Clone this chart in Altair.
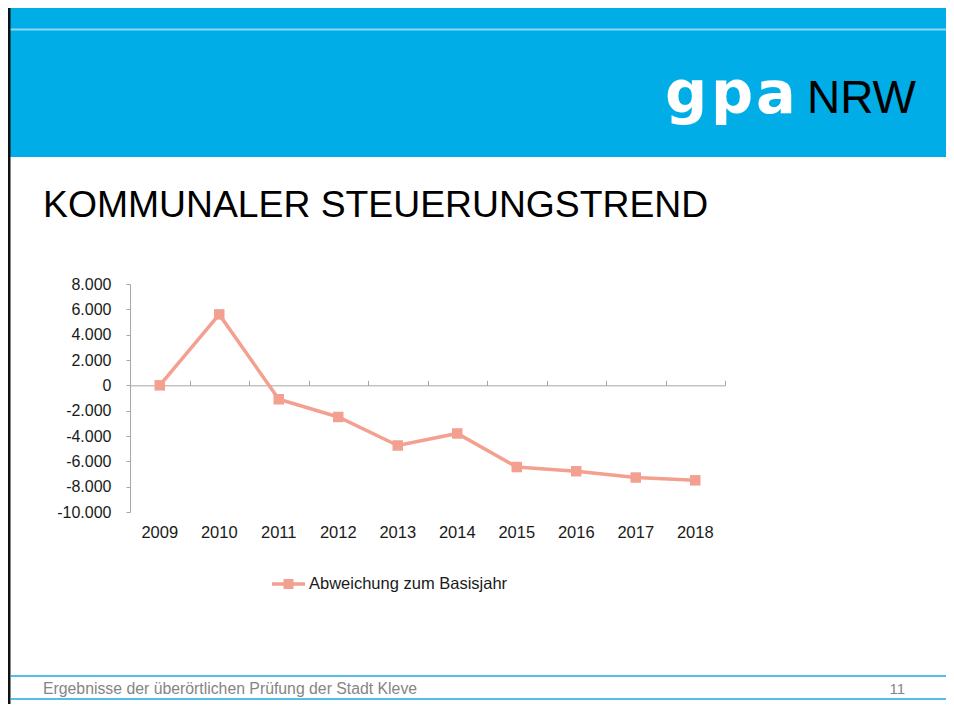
import altair as alt
import pandas as pd

# ---------------- data ----------------
years = ["2009", "2010", "2011", "2012", "2013", "2014", "2015", "2016", "2017", "2018"]
values = [0, 5600, -1100, -2500, -4750, -3800, -6450, -6780, -7280, -7500]
y_ticks = [8000, 6000, 4000, 2000, 0, -2000, -4000, -6000, -8000, -10000]
series_name = "Abweichung zum Basisjahr"
title_text = "KOMMUNALER STEUERUNGSTREND"
footer_text = "Ergebnisse der überörtlichen Prüfung der Stadt Kleve"
page_number = "11"
logo_letters = ["g", "p", "a"]
logo_right = "NRW"

# ---------------- layout constants ----------------
W, H = 595, 228
Y_MIN, Y_MAX = -10000, 8000
zero_px = H * Y_MAX / (Y_MAX - Y_MIN)
BLUE = "#00ADE6"
LINE_BLUE = "#1AA8E0"
SALMON = "#F3A090"
GRAY = "#A6A6A6"
FONT = "Liberation Sans"

df = pd.DataFrame({"Jahr": years, "Wert": values, "Reihe": series_name})
one = pd.DataFrame({"k": [0]})


def rect(x, x2, y, y2, color):
    return alt.Chart(one).mark_rect(color=color).encode(
        x=alt.value(x), x2=alt.value(x2), y=alt.value(y), y2=alt.value(y2))


def hrule(x, x2, y, color, sw):
    return alt.Chart(one).mark_rule(color=color, strokeWidth=sw).encode(
        x=alt.value(x), x2=alt.value(x2), y=alt.value(y))


def txt(s, x, y, size, color, align="left", baseline="alphabetic", font=FONT, weight="normal"):
    return alt.Chart(one).mark_text(
        text=s, font=font, fontSize=size, color=color, align=align,
        baseline=baseline, fontWeight=weight).encode(x=alt.value(x), y=alt.value(y))


header = rect(-120, 816, -276, -127, BLUE)
header_line = hrule(-120, 816, -254.5, "#8CD7F2", 2)
left_border = alt.Chart(one).mark_rule(color="#111111", strokeWidth=3).encode(
    x=alt.value(-121), y=alt.value(-276), y2=alt.value(420))

title = txt(title_text, -87, -67, 37.3, "#000000")

logo_x = [556, 602, 646]
logo_layers = [
    txt(ch, lx, -171, 59, "#FFFFFF", align="center", font="DejaVu Sans", weight="bold")
    for ch, lx in zip(logo_letters, logo_x)
]
logo_nrw = txt(logo_right, 677, -171, 46, "#000000")

footer_l1 = hrule(-120, 816, 392, LINE_BLUE, 1.5)
footer_l2 = hrule(-120, 816, 415, LINE_BLUE, 1.5)
footer_t = txt(footer_text, -87, 405, 15.8, "#858585", baseline="middle")
footer_n = txt(page_number, 775, 405, 15, "#858585", align="right", baseline="middle")

# legend
leg_line = hrule(142, 175, 300, SALMON, 3.5)
leg_pt = alt.Chart(one).mark_point(shape="square", filled=True, size=100, color=SALMON, opacity=1).encode(
    x=alt.value(158.5), y=alt.value(300))
leg_txt = txt(series_name, 179, 300, 16.5, "#1a1a1a", baseline="middle")

# ---------------- main chart ----------------
xscale = alt.Scale(type="band", paddingInner=0, paddingOuter=0)
yaxis = alt.Axis(
    values=y_ticks,
    labelExpr="replace(replace(format(datum.value, ',.0f'), ',', '.'), '\u2212', '-')",
    grid=False, domainColor=GRAY, tickColor=GRAY, tickSize=4, labelPadding=15,
    labelFont=FONT, labelFontSize=16, labelColor="#1a1a1a", title=None)
bottom_axis = alt.Axis(
    orient="bottom", domain=False, ticks=False, labelPadding=12, labelAngle=0,
    labelFont=FONT, labelFontSize=16.5, labelColor="#1a1a1a", title=None, grid=False)
top_axis = alt.Axis(
    orient="top", offset=-zero_px, labels=False, ticks=True, tickBand="extent",
    tickSize=5, domain=True, domainColor=GRAY, tickColor=GRAY, title=None, grid=False)

base = alt.Chart(df).encode(
    y=alt.Y("Wert:Q", scale=alt.Scale(domain=[Y_MIN, Y_MAX], nice=False), axis=yaxis))

line = base.mark_line(color=SALMON, strokeWidth=3.5).encode(
    x=alt.X("Jahr:O", scale=xscale, axis=bottom_axis, sort=years))
points = base.mark_point(shape="square", filled=True, size=110, color=SALMON, opacity=1).encode(
    x=alt.X("Jahr:O", scale=xscale, axis=top_axis, sort=years))

chart = alt.layer(
    header, header_line, left_border, title, *logo_layers, logo_nrw,
    footer_l1, footer_l2, footer_t, footer_n,
    leg_line, leg_pt, leg_txt,
    line, points,
).resolve_axis(x="independent").properties(
    width=W, height=H,
    padding={"left": 122, "top": 276, "right": 221, "bottom": 196},
    autosize=alt.AutoSizeParams(type="none"),
    background="white",
).configure_view(stroke=None)

chart.save("out.html", embed_options={"renderer": "svg", "actions": False})
